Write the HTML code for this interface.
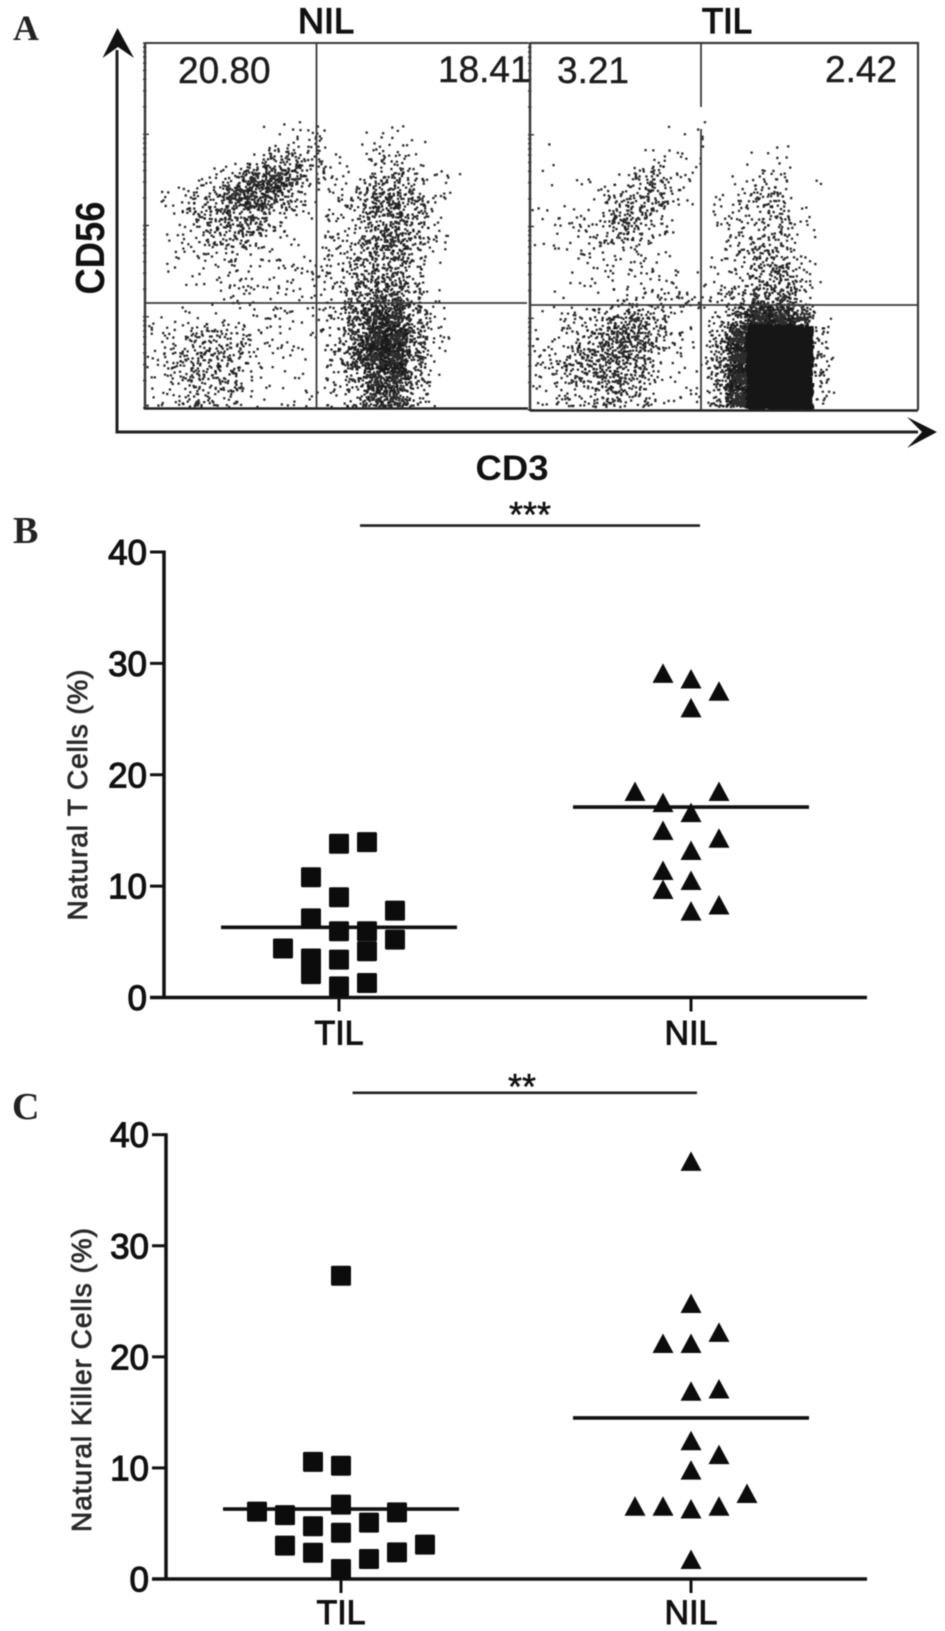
<!DOCTYPE html>
<html lang="en">
<head>
<meta charset="utf-8">
<title>CD3 and CD56 flow cytometry with natural T and natural killer cell percentages</title>
<style>
  html,body{margin:0;padding:0;background:#fff;}
  #figure{display:block;width:945px;height:1631px;filter:blur(0.6px);}
  text{font-family:"Liberation Sans",sans-serif;fill:#111;}
  .serif{font-family:"Liberation Serif",serif;font-weight:bold;fill:#222;}
  .tick{font-size:35px;stroke:#111;stroke-width:1.1px;}
  .cat{font-size:34px;stroke:#111;stroke-width:1px;text-anchor:middle;}
  .ytitle{font-size:28px;fill:#2a2a2a;stroke:#2a2a2a;stroke-width:.8px;text-anchor:middle;}
  .quad{font-size:37px;fill:#1c1c1c;stroke:#1c1c1c;stroke-width:.4px;}
  .panel-title{font-size:35px;stroke:#111;stroke-width:1.3px;text-anchor:middle;}
  .star{font-size:36px;text-anchor:middle;stroke:#111;stroke-width:.5px;}
</style>
</head>
<body>
<svg id="figure" xmlns="http://www.w3.org/2000/svg" width="945" height="1631" viewBox="0 0 945 1631">
  <rect width="945" height="1631" fill="#fff"/>

  <text class="serif" x="13" y="40" font-size="36">A</text>
  <text class="serif" x="13" y="543" font-size="38">B</text>
  <text class="serif" x="12" y="1119" font-size="38">C</text>

  <g id="flow">
    <g id="flowDots"></g>
    <g id="flowTicks"></g>
    <g fill="none" stroke="#3a3a3a">
      <path d="M145 43H528" stroke-width="2"/>
      <path d="M145 43V409" stroke-width="2.5"/>
      <path d="M144 408.5H528" stroke-width="2.6" stroke="#222"/>
      <path d="M316.5 43V408" stroke-width="1.8"/>
      <path d="M146 303H527" stroke-width="1.8"/>
      <path d="M530 43V411" stroke-width="2.5"/>
      <path d="M530 43H918V410" stroke-width="2.2"/>
      <path d="M530 410.5H918" stroke-width="2.6" stroke="#222"/>
      <path d="M701 43V107M701 129V410" stroke-width="1.8"/>
      <path d="M531 305H917" stroke-width="1.8"/>
    </g>
    <text class="panel-title" x="326" y="33" textLength="56" lengthAdjust="spacingAndGlyphs">NIL</text>
    <text class="panel-title" x="727" y="33" textLength="50" lengthAdjust="spacingAndGlyphs">TIL</text>
    <text class="quad" x="178" y="83">20.80</text>
    <text class="quad" x="438" y="82">18.41</text>
    <text class="quad" x="557" y="83">3.21</text>
    <text class="quad" x="825" y="82">2.42</text>
    <g fill="#111" stroke="none">
      <path d="M117 50V432H918" fill="none" stroke="#222" stroke-width="3"/>
      <path d="M117.5 28L134 58L118 47L102.5 58Z"/>
      <path d="M937 432L907 448L922 432L907 417Z"/>
    </g>
    <text transform="translate(104,248) rotate(-90)" font-size="41" font-weight="bold" text-anchor="middle" textLength="93" lengthAdjust="spacingAndGlyphs">CD56</text>
    <text x="512" y="480" font-size="35" font-weight="bold" text-anchor="middle" textLength="73" lengthAdjust="spacingAndGlyphs">CD3</text>
  </g>

  <g id="chartB"></g>
  <g id="chartC"></g>
</svg>

<script>
// Dot-plot categories and axis ticks
const categories = ['TIL', 'NIL'];
const tickValues = [0, 10, 20, 30, 40];

// Panel B values (percent) with their swarm column numbers
const tCellsTil = [13.8, 13.95, 10.8, 9, 7.8, 7.1, 5.95, 5.95, 5.2, 4.4, 4.15, 3.5, 2.1, 3.4, 1, 1.3];
const tCellsTilColumn = [0, 1, -1, 0, 2, -1, 0, 1, 2, -2, 1, -1, -1, 0, 0, 1];
const tCellsNil = [29.1, 28.6, 27.5, 26, 18.5, 18.5, 17.5, 16.6, 15, 14.3, 13.2, 11.4, 10.5, 9.7, 8.3, 7.75];
const tCellsNilColumn = [-1, 0, 1, 0, -2, 1, -1, 0, -1, 1, 0, -1, 0, -1, 1, 0];
const tCellsMeans = [6.3, 17.1];

// Panel C values (percent) with their swarm column numbers
const nkCellsTil = [27.3, 10.55, 10.2, 6.7, 6.07, 5.75, 6, 4.75, 5.08, 4.16, 3, 3.1, 2.36, 2.4, 1.8, 0.9];
const nkCellsTilColumn = [0, -1, 0, 0, -3, -2, 2, -1, 1, 0, -2, 3, -1, 2, 1, 0];
const nkCellsNil = [37.6, 24.8, 22.2, 21.2, 21.2, 17.1, 16.9, 12.45, 11.2, 9.8, 7.7, 6.55, 6.55, 6.55, 6.3, 1.75];
const nkCellsNilColumn = [0, 0, 1, -1, 0, 1, 0, 0, 1, 0, 2, -2, -1, 1, 0, 0];
const nkCellsMeans = [6.3, 14.5];

// Flow plots: estimated events per grid cell
const nilDensity = [
  [0,0,0,0,0,0,1,4,8,0,0,2,3,1,0,0],
  [0,0,0,0,0,3,12,18,8,2,0,6,8,1,0,0],
  [0,0,2,4,14,40,55,28,8,4,3,14,16,10,3,1],
  [1,3,8,16,45,55,30,12,2,5,8,28,26,18,5,0],
  [0,2,12,18,22,22,8,2,1,5,7,22,32,16,4,0],
  [0,3,5,10,18,14,3,2,0,5,8,24,40,15,5,0],
  [0,3,3,5,6,3,2,2,3,6,12,22,22,12,1,0],
  [0,0,2,3,3,3,3,3,6,6,14,24,24,10,1,0],
  [0,0,0,1,4,3,3,2,3,4,18,36,40,12,2,0],
  [1,1,2,2,2,2,4,4,3,8,26,70,70,20,4,0],
  [2,5,12,14,12,5,3,1,2,5,32,100,110,28,6,0],
  [4,10,14,18,14,4,2,2,1,8,34,100,110,24,3,0],
  [2,6,16,14,14,2,2,2,0,6,16,60,80,18,2,0],
  [3,4,14,8,8,2,1,2,2,4,10,45,45,14,1,0]
];
const tilDensity = [
  [0,0,0,0,0,0,0,1,2,0,0,0,0,0,0,0],
  [0,1,0,0,0,1,3,2,3,0,0,1,3,0,0,0],
  [1,0,2,0,2,8,16,5,0,0,1,6,6,0,1,0],
  [0,0,0,4,12,15,16,3,0,2,4,12,10,1,0,0],
  [2,3,5,8,18,20,7,0,0,4,6,8,12,4,0,0],
  [1,2,3,6,14,10,3,0,0,0,8,12,8,2,1,0],
  [0,1,4,3,3,4,2,0,0,3,6,16,18,4,0,0],
  [0,0,2,2,3,3,3,3,1,3,6,14,24,10,2,0],
  [0,1,0,1,4,6,6,6,4,6,14,28,32,10,0,0],
  [1,3,6,10,20,24,14,2,0,5,30,120,120,50,3,0],
  [2,5,8,20,36,32,14,4,2,16,110,300,300,190,8,0],
  [6,6,22,26,32,24,6,2,2,22,130,300,300,190,10,0],
  [2,8,18,24,26,16,3,2,0,22,130,300,300,190,10,0],
  [3,6,6,14,18,10,2,3,3,18,110,300,300,190,8,0]
];

const SVG_NS = 'http://www.w3.org/2000/svg';
function make(tag, attrs, parent, text) {
  const el = document.createElementNS(SVG_NS, tag);
  for (const k in attrs) el.setAttribute(k, attrs[k]);
  if (text !== undefined) el.textContent = text;
  parent.appendChild(el);
  return el;
}

/* ---------- flow plots ---------- */
const CELL = 20;
const GRID_TOP = 128;
const GRID_BOTTOM = 408;
const DOTS_PER_EVENT = 2;
const EDGE_SOFTNESS = 0.6;
const SATURATED_COUNT = 150;
// Scatter a dot across its cell; the offset only softens the grid, counts come from the arrays
function spread(n) {
  const s = Math.sin(n * 12.9898) * 43758.5453;
  return s - Math.floor(s);
}
function drawDensity(grid, left, name) {
  const host = document.getElementById('flowDots');
  let seq = 0;
  const right = left + 16 * CELL;
  grid.forEach(function (row, r) {
    row.forEach(function (count, c) {
      if (!count) return;
      const dots = Math.round(count * DOTS_PER_EVENT);
      const saturated = count >= SATURATED_COUNT;
      const size = saturated ? 3.8 : 2.3;
      const soft = saturated ? 0.3 : EDGE_SOFTNESS;
      let d = '';
      for (let i = 0; i < dots; i++) {
        seq++;
        const tx = (spread(seq) - 0.5) + (spread(seq + 0.37) - 0.5) * soft;
        const ty = (spread(seq + 0.71) - 0.5) + (spread(seq + 1.13) - 0.5) * soft;
        let x = left + (c + 0.5) * CELL + tx * CELL - size / 2;
        let y = GRID_TOP + (r + 0.5) * CELL + ty * CELL - size / 2;
        if (y > GRID_BOTTOM - 2) y = 2 * (GRID_BOTTOM - 2) - y;
        if (x < left + 1) x = 2 * (left + 1) - x;
        if (x > right) x = 2 * right - x;
        d += 'M' + x.toFixed(1) + ' ' + y.toFixed(1) + 'h' + size + 'v' + size + 'h-' + size + 'z';
      }
      const cell = make('path', { d: d, fill: '#161616', 'fill-opacity': saturated ? '1' : '0.9' }, host);
      
      
    });
  });
}
drawDensity(nilDensity, 145, 'nil');
drawDensity(tilDensity, 530, 'til');

function drawLogTicks(x, top, bottom) {
  const host = document.getElementById('flowTicks');
  const decade = (bottom - top) / 4;
  let d = '';
  for (let dec = 0; dec < 4; dec++) {
    for (let k = 1; k <= 10; k++) {
      const y = bottom - (dec + Math.log10(k)) * decade;
      const len = (k === 1 || k === 10) ? 6 : 3.5;
      d += 'M' + (x - 2) + ' ' + y.toFixed(1) + 'h' + len;
    }
  }
  const ticks = make('path', { d: d, stroke: '#333', 'stroke-width': '1.4', fill: 'none' }, host);
  
  
}
drawLogTicks(145, 43, 408);
drawLogTicks(530, 43, 410);

/* ---------- dot plots ---------- */
function drawDotPlot(cfg) {
  const host = document.getElementById(cfg.id);
  const yScale = function (v) { return cfg.zeroY - v * (cfg.zeroY - cfg.topY) / 40; };
  const xScale = function (i, column) { return cfg.centers[i] + column * 28; };

  const yAxis = make('line', { x1: cfg.axisX, x2: cfg.axisX, y1: yScale(40) - 1.5, y2: yScale(0), stroke: '#111', 'stroke-width': 3.5 }, host);
  
  
  const xAxis = make('line', { x1: cfg.axisStart, x2: 867, y1: yScale(0), y2: yScale(0), stroke: '#111', 'stroke-width': 3.5 }, host);
  
  

  tickValues.forEach(function (t) {
    const tick = make('line', { x1: cfg.axisX - 14, x2: cfg.axisX, y1: yScale(t), y2: yScale(t), stroke: '#111', 'stroke-width': 3 }, host);
    
    
    const label = make('text', { class: 'tick', x: cfg.axisX - 17, y: yScale(t) + 12.5, 'text-anchor': 'end' }, host, String(t));
    
    
  });

  categories.forEach(function (name, i) {
    const tick = make('line', { x1: cfg.centers[i], x2: cfg.centers[i], y1: yScale(0), y2: yScale(0) + 14, stroke: '#111', 'stroke-width': 3 }, host);
    
    
    const label = make('text', { class: 'cat', x: cfg.centers[i], y: cfg.labelY }, host, name);
    
    
    const mean = make('line', { x1: cfg.centers[i] - 118, x2: cfg.centers[i] + 118, y1: yScale(cfg.means[i]), y2: yScale(cfg.means[i]), stroke: '#111', 'stroke-width': 3.6 }, host);
    
    
  });

  cfg.til.forEach(function (v, k) {
    const cx = xScale(0, cfg.tilColumn[k]);
    const cy = yScale(v);
    const square = make('rect', { x: cx - 10, y: cy - 10, width: 20, height: 20, rx: 1.5, fill: '#0c0c0c' }, host);
    
    
  });
  cfg.nil.forEach(function (v, k) {
    const cx = xScale(1, cfg.nilColumn[k]);
    const cy = yScale(v);
    const pts = cx + ',' + (cy - 10) + ' ' + (cx + 10.5) + ',' + (cy + 9.5) + ' ' + (cx - 10.5) + ',' + (cy + 9.5);
    const tri = make('polygon', { points: pts, fill: '#0c0c0c' }, host);
    
    
  });

  const sig = make('line', { x1: cfg.sigFrom, x2: cfg.sigTo, y1: cfg.sigY, y2: cfg.sigY, stroke: '#222', 'stroke-width': 2.6 }, host);
  
  
  const stars = make('text', { class: 'star', x: cfg.starX, y: cfg.starY }, host, cfg.stars);
  
  
  const title = make('text', {
    class: 'ytitle', transform: 'translate(' + cfg.titleX + ',' + cfg.titleY + ') rotate(-90)',
    textLength: cfg.titleLen, lengthAdjust: 'spacing'
  }, host, cfg.title);
  
  
}

drawDotPlot({
  id: 'chartB', zeroY: 997.5, topY: 552, axisX: 164, axisStart: 150, centers: [339, 691], labelY: 1044.5,
  til: tCellsTil, tilColumn: tCellsTilColumn, nil: tCellsNil, nilColumn: tCellsNilColumn, means: tCellsMeans,
  sigFrom: 360, sigTo: 700, sigY: 525.6, stars: '***', starX: 530, starY: 527,
  title: 'Natural T Cells (%)', titleX: 87, titleY: 795, titleLen: 251
});
drawDotPlot({
  id: 'chartC', zeroY: 1579, topY: 1134.7, axisX: 166, axisStart: 152, centers: [341, 691], labelY: 1624,
  til: nkCellsTil, tilColumn: nkCellsTilColumn, nil: nkCellsNil, nilColumn: nkCellsNilColumn, means: nkCellsMeans,
  sigFrom: 352.6, sigTo: 697, sigY: 1092.8, stars: '**', starX: 522, starY: 1099,
  title: 'Natural Killer Cells  (%)', titleX: 91, titleY: 1380, titleLen: 304
});
</script>
</body>
</html>
